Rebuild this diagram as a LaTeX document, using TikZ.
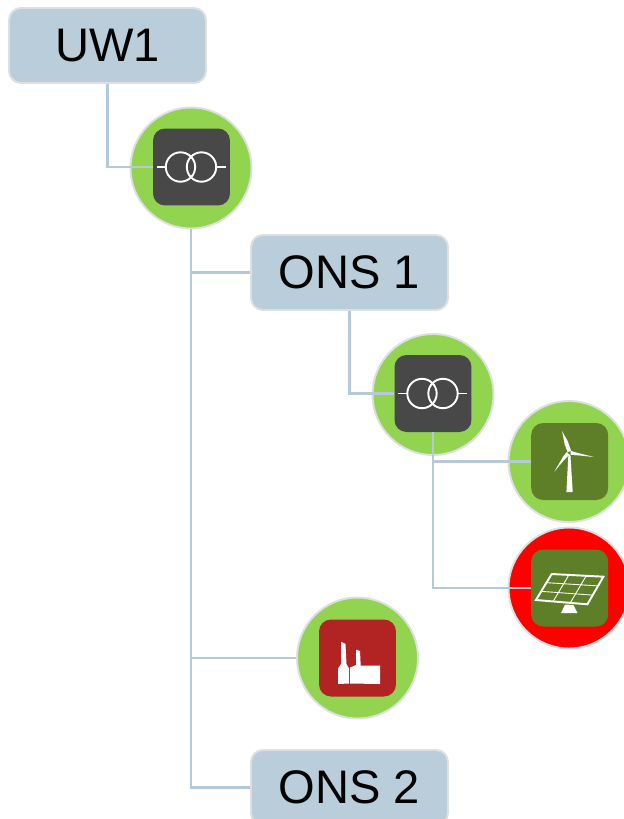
\documentclass[tikz,border=0pt]{standalone}
\usepackage{fontspec}
\setmainfont{Liberation Sans}

\definecolor{boxblue}{HTML}{B9CDDA}
\definecolor{linkblue}{HTML}{B5CAD8}
\definecolor{edgegray}{HTML}{DDDFE0}
\definecolor{ringgreen}{HTML}{92D350}
\definecolor{trafogray}{HTML}{484848}
\definecolor{plantgreen}{HTML}{5E7F27}
\definecolor{loadred}{HTML}{B22424}

\tikzset{
    boxnode/.style={draw=edgegray,fill=boxblue,line width=1.1pt,rounded corners=0.24cm,
        minimum width=3.94cm,minimum height=1.5cm,inner sep=0pt,text=black,
        font=\fontsize{26.8}{30}\selectfont},
    ringnode/.style={circle,draw=edgegray,fill=#1,line width=1.1pt,minimum size=2.42cm,inner sep=0pt},
    iconnode/.style={rectangle,fill=#1,rounded corners=0.24cm,minimum size=1.54cm,inner sep=0pt},
    link/.style={draw=linkblue,line width=1.2pt},
    iconline/.style={draw=white,line width=1.1pt},
    pics/trafo/.style={code={
        \draw[iconline] (-11,0) circle (14.7);
        \draw[iconline] (10,0) circle (14.7);
        \draw[iconline] (-35,0) -- (-25.7,0);
        \draw[iconline] (24.7,0) -- (34,0);
    }},
    pics/turbine/.style={code={
        \fill[white] (-3.3,30.5) -- (-1.3,-7) -- (0.7,-7) -- (3,30.5) -- cycle;
        \fill[white] (-7.7,-30.5) -- (-1.8,-20) -- (1.4,-10.5) -- (-2.2,-9.5) -- (-5,-17) -- cycle;
        \fill[white] (24.3,-4.5) -- (8,-8.6) -- (1,-10.6) -- (1,-6.8) -- (8,-6.2) -- cycle;
        \fill[white] (-15.3,10) -- (-6.2,-5.5) -- (-2.8,-9.5) -- (-0.4,-6.8) -- (-5,-2.2) -- cycle;
    }},
    pics/panel/.style={code={
        \coordinate (a) at (-18,-14);
        \coordinate (b) at (33.7,-11.3);
        \coordinate (c) at (17.7,16.3);
        \coordinate (d) at (-33.7,12);
        \draw[iconline] (a) -- (b) -- (c) -- (d) -- cycle;
        \foreach \t in {0.333,0.667} {
            \draw[white,line width=0.5pt] ($(a)!\t!(b)$) -- ($(d)!\t!(c)$);
            \draw[white,line width=0.5pt] ($(a)!\t!(d)$) -- ($(b)!\t!(c)$);
        }
        \fill[white] (-4.7,16.5) -- (3.7,17) -- (7.7,25) -- (-8.7,25) -- cycle;
    }},
    pics/factory/.style={code={
        \fill[white] (-16.5,-16.3) -- (-12,-14) -- (-11,6) -- (-8.5,10.5) -- (-8.5,25.5)
            -- (-19.5,26) -- (-19.5,10.5) -- (-16.5,6) -- cycle;
        \fill[white] (-7.5,25.5) -- (-7.5,9.5) -- (-1.5,7) -- (-1.5,-8.5) -- (2.5,-7) -- (3.2,7.5)
            -- (22.5,7.5) -- (22.5,26) -- cycle;
    }},
}
\usetikzlibrary{calc}

\begin{document}
\begin{tikzpicture}[x=0.02cm,y=-0.02cm]
        \clip (0,0) rectangle (624,819);

        % green and red discs
        \node[ringnode=ringgreen] (T1) at (191,168) {};
        \node[ringnode=ringgreen] (T2) at (433,394.5) {};
        \node[ringnode=ringgreen] (WIND) at (569,461.5) {};
        \node[ringnode=red] (SOLAR) at (569,588) {};
        \node[ringnode=ringgreen] (FACTORY) at (357.5,658) {};

        % icon squares
        \node[iconnode=trafogray] (T1sq) at (191.5,167) {};
        \node[iconnode=trafogray] (T2sq) at (433,393.5) {};
        \node[iconnode=plantgreen] (WINDsq) at (569.7,461.5) {};
        \node[iconnode=plantgreen] (SOLARsq) at (569.7,588) {};
        \node[iconnode=loadred] (FACTORYsq) at (357.5,658) {};

        % station boxes
        \node[boxnode] (UW1) at (107.5,45.5) {UW1};
        \node[boxnode] (ONS1) at (349.5,272.5) {ONS 1};
        \node[boxnode] (ONS2) at (349.5,787.5) {ONS 2};

        % connectors
        \draw[link] (UW1.south) |- (T1sq.west);
        \draw[link] (T1.south) |- (ONS1.west);
        \draw[link] (T1.south) |- (FACTORY.west);
        \draw[link] (T1.south) |- (ONS2.west);
        \draw[link] (ONS1.south) |- (T2sq.west);
        \draw[link] (T2sq.south) |- (WINDsq.west);
        \draw[link] (T2sq.south) |- (SOLARsq.west);

        % icons
        \pic at (T1sq) {trafo};
        \pic at (T2sq) {trafo};
        \pic at (WINDsq) {turbine};
        \pic at (SOLARsq) {panel};
        \pic at (FACTORYsq) {factory};

    \end{tikzpicture}
\end{document}
